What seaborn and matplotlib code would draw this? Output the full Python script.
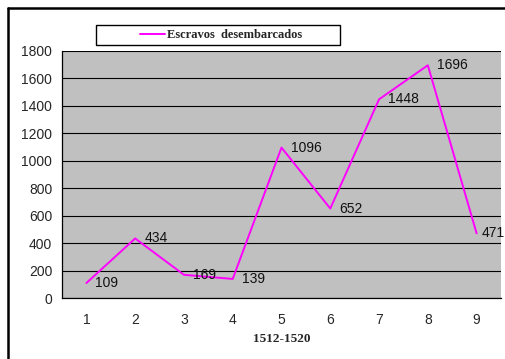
import matplotlib
matplotlib.use("Agg")
import matplotlib.pyplot as plt
import seaborn as sns
import pandas as pd
from matplotlib.lines import Line2D
from matplotlib.patches import Rectangle
from matplotlib.ticker import FixedLocator

# data
periods = [1, 2, 3, 4, 5, 6, 7, 8, 9]
slaves = [109, 434, 169, 139, 1096, 652, 1448, 1696, 471]
yticks = [0, 200, 400, 600, 800, 1000, 1200, 1400, 1600, 1800]

df = pd.DataFrame({"period": periods, "slaves": slaves})

sns.set_style("white")
plt.rcParams["font.family"] = ["Liberation Sans", "DejaVu Sans"]

fig = plt.figure(figsize=(5.06, 3.59), dpi=100)
ax = fig.add_axes([62 / 506, 1 - 298 / 359, (501 - 62) / 506, (298 - 51) / 359])
ax.set_facecolor("#C0C0C0")

sns.lineplot(data=df, x="period", y="slaves", color="#FF00FF", linewidth=1.4, ax=ax,
             label="Escravos  desembarcados")

# value labels, the last one sits close to the edge like in the original
for i, (x, y) in enumerate(zip(periods, slaves)):
    dx = 3.5 if i == len(periods) - 1 else 6.5
    ax.annotate(str(y), (x, y), xytext=(dx, 0), textcoords="offset points",
                ha="left", va="center", fontsize=10, color="#111111", annotation_clip=False)

ax.set_xlim(0.5, 9.5)
ax.set_ylim(0, 1800)
ax.set_yticks(yticks)
ax.set_xticks(periods)
ax.xaxis.set_minor_locator(FixedLocator([p + 0.5 for p in [0] + periods]))
ax.tick_params(axis="x", which="major", length=0, labelsize=10, pad=11)
ax.tick_params(axis="x", which="minor", length=4, width=0.8, color="black", direction="out")
ax.tick_params(axis="y", length=4, width=0.8, color="black", direction="out", labelsize=10, pad=3)
ax.grid(axis="y", color="black", linewidth=0.8)
ax.set_axisbelow(True)
for s in ["top", "right"]:
    ax.spines[s].set_visible(False)
for s in ["left", "bottom"]:
    ax.spines[s].set_color("black")
    ax.spines[s].set_linewidth(0.9)

ax.set_xlabel("1512-1520", fontfamily="Liberation Serif", fontweight="bold", fontsize=9.5, labelpad=4)
ax.set_ylabel("")

# legend box drawn separately (behind the axes), legend entry centred in it
fig.add_artist(Rectangle((96 / 506, 1 - 45 / 359), (340 - 96) / 506, 20 / 359,
                         transform=fig.transFigure, facecolor="white", edgecolor="black",
                         linewidth=1.0, zorder=-1))
leg = ax.legend(loc="center", bbox_to_anchor=(221 / 506, 1 - 35 / 359),
                bbox_transform=fig.transFigure, frameon=False, handlelength=2.0,
                prop={"family": "Liberation Serif", "weight": "bold", "size": 9}, borderpad=0,
                handletextpad=0.15)

# outer chart frame
fig.add_artist(Line2D([8 / 506, 8 / 506], [0, 1 - 8 / 359], transform=fig.transFigure, color="black", linewidth=1.8))
fig.add_artist(Line2D([8 / 506, 1], [1 - 8 / 359, 1 - 8 / 359], transform=fig.transFigure, color="black", linewidth=1.8))

fig.savefig("out.png", dpi=100)
